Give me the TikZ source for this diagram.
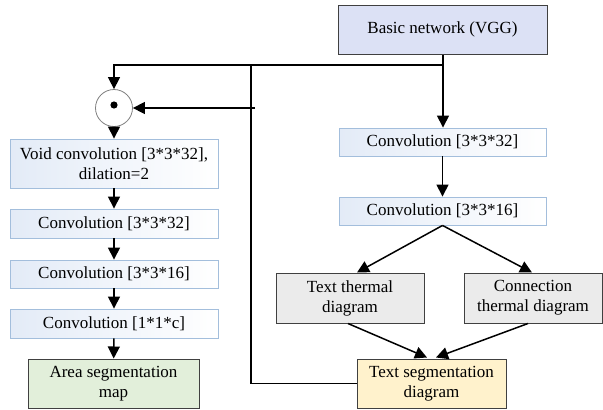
\documentclass[tikz,border=0pt]{standalone}
\usepackage{fontspec}
\setmainfont{Liberation Serif}
\newfontfamily\diagfont{Liberation Serif}
\usetikzlibrary{arrows.meta,calc}

\definecolor{convedge}{HTML}{A3BEDC}
\definecolor{convfill}{HTML}{E3EBF7}
\definecolor{basefill}{HTML}{DCE1F5}
\definecolor{heatfill}{HTML}{EBEBEB}
\definecolor{textfill}{HTML}{FFF2CC}
\definecolor{areafill}{HTML}{E2EFDA}
\definecolor{darkedge}{HTML}{404040}

\tikzset{
  every node/.style={font=\diagfont\fontsize{17}{20}\selectfont, align=center, inner sep=0pt},
  convbox/.style={draw=convedge, line width=0.9pt, left color=convfill, right color=white},
  darkbox/.style={draw=darkedge, line width=1pt},
  flow/.style={line width=1.5pt, -{Triangle[length=12pt,width=12pt]}},
  wire/.style={line width=1.5pt},
}

\begin{document}
\begin{tikzpicture}[x=1pt,y=-1pt]
\useasboundingbox (0,0) rectangle (603,410);

% backbone and right-hand branch
\node[darkbox, fill=basefill, minimum width=209pt, minimum height=49pt] (vgg) at (442.5,29.5) {Basic network (VGG)};
\node[convbox, minimum width=207pt, minimum height=28pt] (c32r) at (442.5,142) {Convolution [3*3*32]};
\node[convbox, minimum width=207pt, minimum height=28pt] (c16r) at (442.5,211) {Convolution [3*3*16]};
\node[darkbox, fill=heatfill, minimum width=148pt, minimum height=50pt] (ttd) at (350,298) {Text thermal\\diagram};
\node[darkbox, fill=heatfill, minimum width=138pt, minimum height=50pt] (ctd) at (533,298) {Connection\\thermal diagram};
\node[darkbox, fill=textfill, minimum width=149pt, minimum height=49pt] (tsd) at (431.5,383.5) {Text segmentation\\diagram};

% element-wise product and left-hand branch
\node[circle, draw=gray, line width=0.8pt, fill=white, minimum size=37pt] (prod) at (114,108) {};
\fill (114,105) circle (3.6pt);
\node[convbox, minimum width=208pt, minimum height=49pt] (void) at (114,163.5) {Void convolution [3*3*32],\\dilation=2};
\node[convbox, minimum width=208pt, minimum height=29pt] (c32l) at (114,223.5) {Convolution [3*3*32]};
\node[convbox, minimum width=208pt, minimum height=28pt] (c16l) at (114,274) {Convolution [3*3*16]};
\node[convbox, minimum width=208pt, minimum height=29pt] (c1l) at (114,323.5) {Convolution [1*1*c]};
\node[darkbox, fill=areafill, minimum width=171pt, minimum height=49pt] (area) at (113.5,383.5) {Area segmentation\\map};

% junction points
\coordinate (split) at (443,65);
\coordinate (tap) at (251,65);
\coordinate (tapin) at (255,108);
\coordinate (loop) at (251,383.5);

% connectors
\draw[wire] (vgg.south -| split) -- (split);
\draw[flow] (split) -- (c32r.north -| split);
\draw[flow] (split) -| (prod.north);
\draw[wire] (tap) -- (loop) -- (tsd.west);
\draw[flow] (tapin) -- (prod.east);
\draw[flow] (prod.south) -- (void.north);
\draw[flow] (void) -- (c32l);
\draw[flow] (c32l) -- (c16l);
\draw[flow] (c16l) -- (c1l);
\draw[flow] (c1l) -- (area);
\draw[flow] (c32r) -- (c16r);
\draw[flow] (c16r.south) -- ($(ttd.north)+(7,0)$);
\draw[flow] (c16r.south) -- ($(ctd.north)+(-1,0)$);
\draw[flow] ($(ttd.south)+(-2,0)$) -- ($(tsd.north)+(-4.5,-1)$);
\draw[flow] ($(ctd.south)+(-5,0)$) -- ($(tsd.north)+(4.5,-1)$);
\end{tikzpicture}
\end{document}
